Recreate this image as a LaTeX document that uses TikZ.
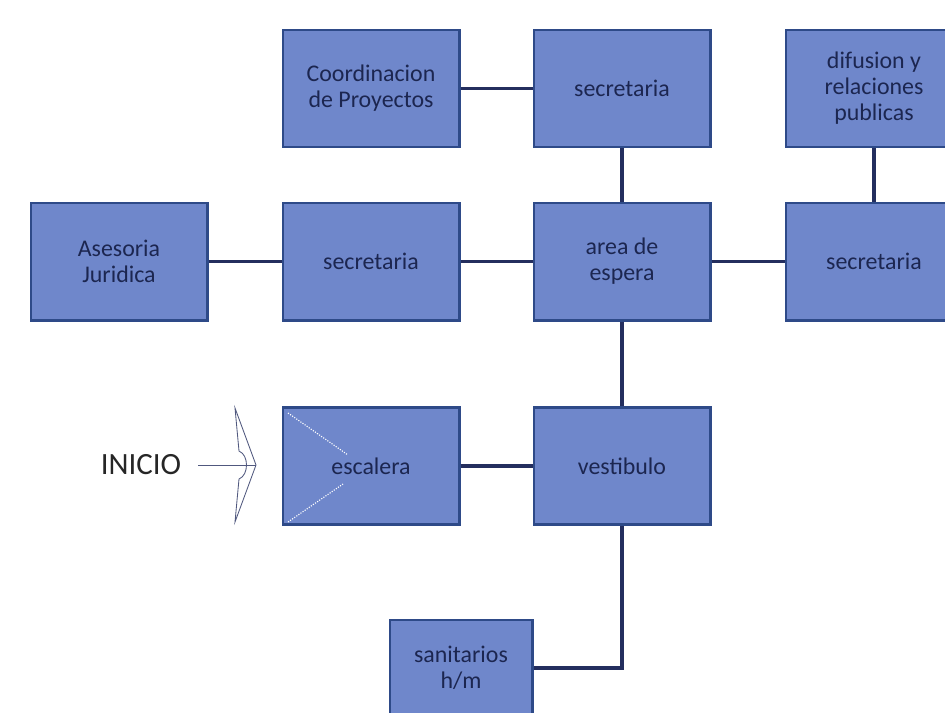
\documentclass[tikz,border=0pt]{standalone}
\usepackage{fontspec}
\setmainfont{Carlito}
\definecolor{roomfill}{HTML}{6F87CB}
\definecolor{roomedge}{HTML}{2E4A88}
\definecolor{roomtext}{HTML}{1C2650}
\definecolor{linkcol}{HTML}{242E5E}
\tikzset{
  room/.style={draw=roomedge,fill=roomfill,line width=2.1pt,minimum width=4.4cm,
    minimum height=2.925cm,align=center,text=roomtext,
    font=\fontsize{17}{18.5}\selectfont},
  link/.style={draw=linkcol,line width=2.6pt}
}
\begin{document}
\begin{tikzpicture}[x=0.025cm,y=-0.025cm]
    \useasboundingbox (0,0) rectangle (945,712);
    % first row
    \node[room] (coord) at (371,88.5) {Coordinacion\\de Proyectos};
    \node[room] (secA) at (622,88.5) {secretaria};
    \node[room] (difu) at (874,88.5) {difusion y\\relaciones\\publicas};
    % second row
    \node[room] (ases) at (119,261.5) {Asesoria\\Juridica};
    \node[room] (secB) at (371,261.5) {secretaria};
    \node[room] (espera) at (622,261.5) {area de\\espera};
    \node[room] (secC) at (874,261.5) {secretaria};
    % third row
    \node[room] (escal) at (371,466) {escalera};
    \node[room] (vest) at (622,466) {vestibulo};
    \node[room,minimum width=3.55cm,minimum height=2.4cm] (sanit) at (461,668) {sanitarios\\h/m};
    % stair marks
    \draw[white,densely dotted,line width=0.8pt] (288,413) -- (348,455);
    \draw[white,densely dotted,line width=0.8pt] (288,522) -- (343,484);
    % links
    \draw[link] (coord.east) -- (secA.west);
    \draw[link] (secA.south) -- (espera.north);
    \draw[link] (difu.south) -- (secC.north);
    \draw[link] (ases.east) -- (secB.west);
    \draw[link] (secB.east) -- (espera.west);
    \draw[link] (espera.east) -- (secC.west);
    \draw[link] (espera.south) -- (vest.north);
    \draw[link] (escal.east) -- (vest.west);
    \draw[link] (vest.south) |- (sanit.east);
    % entrance
    \node[font=\fontsize{22}{24}\selectfont,text=black!85] (inicio) at (141,465) {INICIO};
    \coordinate (tip) at (256,465);
    \draw[fill=white,draw=linkcol!80,line width=0.6pt] (235,408) -- (tip) -- (235,522)
      -- (239,479) .. controls (249,475) and (249,455) .. (239,451) -- cycle;
    \draw[linkcol!80,line width=0.6pt,shorten <=0.3cm] (inicio.east) -- (tip);
  \end{tikzpicture}
\end{document}
